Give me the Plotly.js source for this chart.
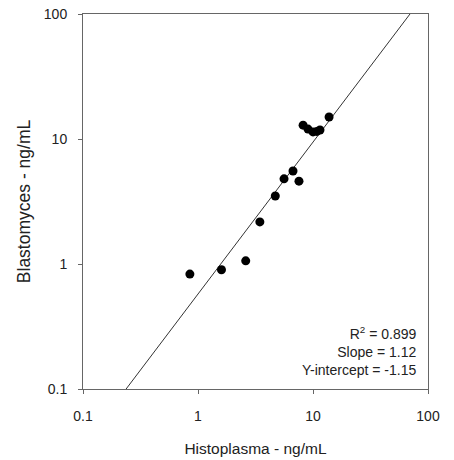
<!DOCTYPE html>
<html>
<head>
<meta charset="utf-8">
<script src="https://cdn.plot.ly/plotly-3.0.1.min.js"></script>
<style>html,body{margin:0;padding:0;background:#fff;}#chart{width:454px;height:460px;}</style>
</head>
<body>
<div id="chart"></div>
<script>
// Data
const histoplasma = [0.85, 1.6, 2.6, 3.45, 4.7, 5.6, 6.7, 7.55, 8.2, 9.05, 10.0, 10.8, 11.5, 13.8];
const blastomyces = [0.83, 0.9, 1.06, 2.17, 3.5, 4.8, 5.55, 4.6, 12.9, 12.0, 11.4, 11.5, 11.8, 15.0];
const fitX = [0.237, 69.7];
const fitY = [0.1, 100];
const statLines = ["R<sup>2</sup> = 0.899", "Slope = 1.12", "Y-intercept = -1.15"];
const tickVals = [0.1, 1, 10, 100];
const tickText = ["0.1", "1", "10", "100"];

const font = "Liberation Sans, Arial, sans-serif";

const traces = [
  {x: fitX, y: fitY, mode: "lines", type: "scatter",
   line: {color: "#333", width: 1}, hoverinfo: "skip"},
  {x: histoplasma, y: blastomyces, mode: "markers", type: "scatter",
   marker: {color: "#000", size: 9}}
];

const axisCommon = {
  type: "log", showgrid: false, zeroline: false,
  showline: true, linecolor: "#666", linewidth: 1, mirror: true,
  ticks: "outside", ticklen: 4, tickcolor: "#666", tickwidth: 1,
  tickvals: tickVals, ticktext: tickText,
  tickfont: {family: font, size: 14, color: "#222"}
};

const layout = {
  width: 454, height: 460,
  margin: {l: 83, r: 26, t: 14, b: 71},
  paper_bgcolor: "#fff", plot_bgcolor: "#fff",
  showlegend: false,
  xaxis: Object.assign({}, axisCommon, {
    range: [-1, 2], ticklabelstandoff: 10,
    title: {text: "Histoplasma - ng/mL", font: {family: font, size: 15.5, color: "#222"}, standoff: 20}
  }),
  yaxis: Object.assign({}, axisCommon, {
    range: [-1, 2], ticklabelstandoff: 8,
    title: {text: "Blastomyces - ng/mL", font: {family: font, size: 17.5, color: "#222"}, standoff: 8}
  }),
  annotations: [{
    xref: "paper", yref: "paper", x: 0.97, y: 0.025,
    xanchor: "right", yanchor: "bottom", align: "right", showarrow: false,
    text: statLines.join("<br>"),
    font: {family: font, size: 14, color: "#222"}
  }]
};

Plotly.newPlot("chart", traces, layout, {displayModeBar: false, staticPlot: true});
</script>
</body>
</html>
